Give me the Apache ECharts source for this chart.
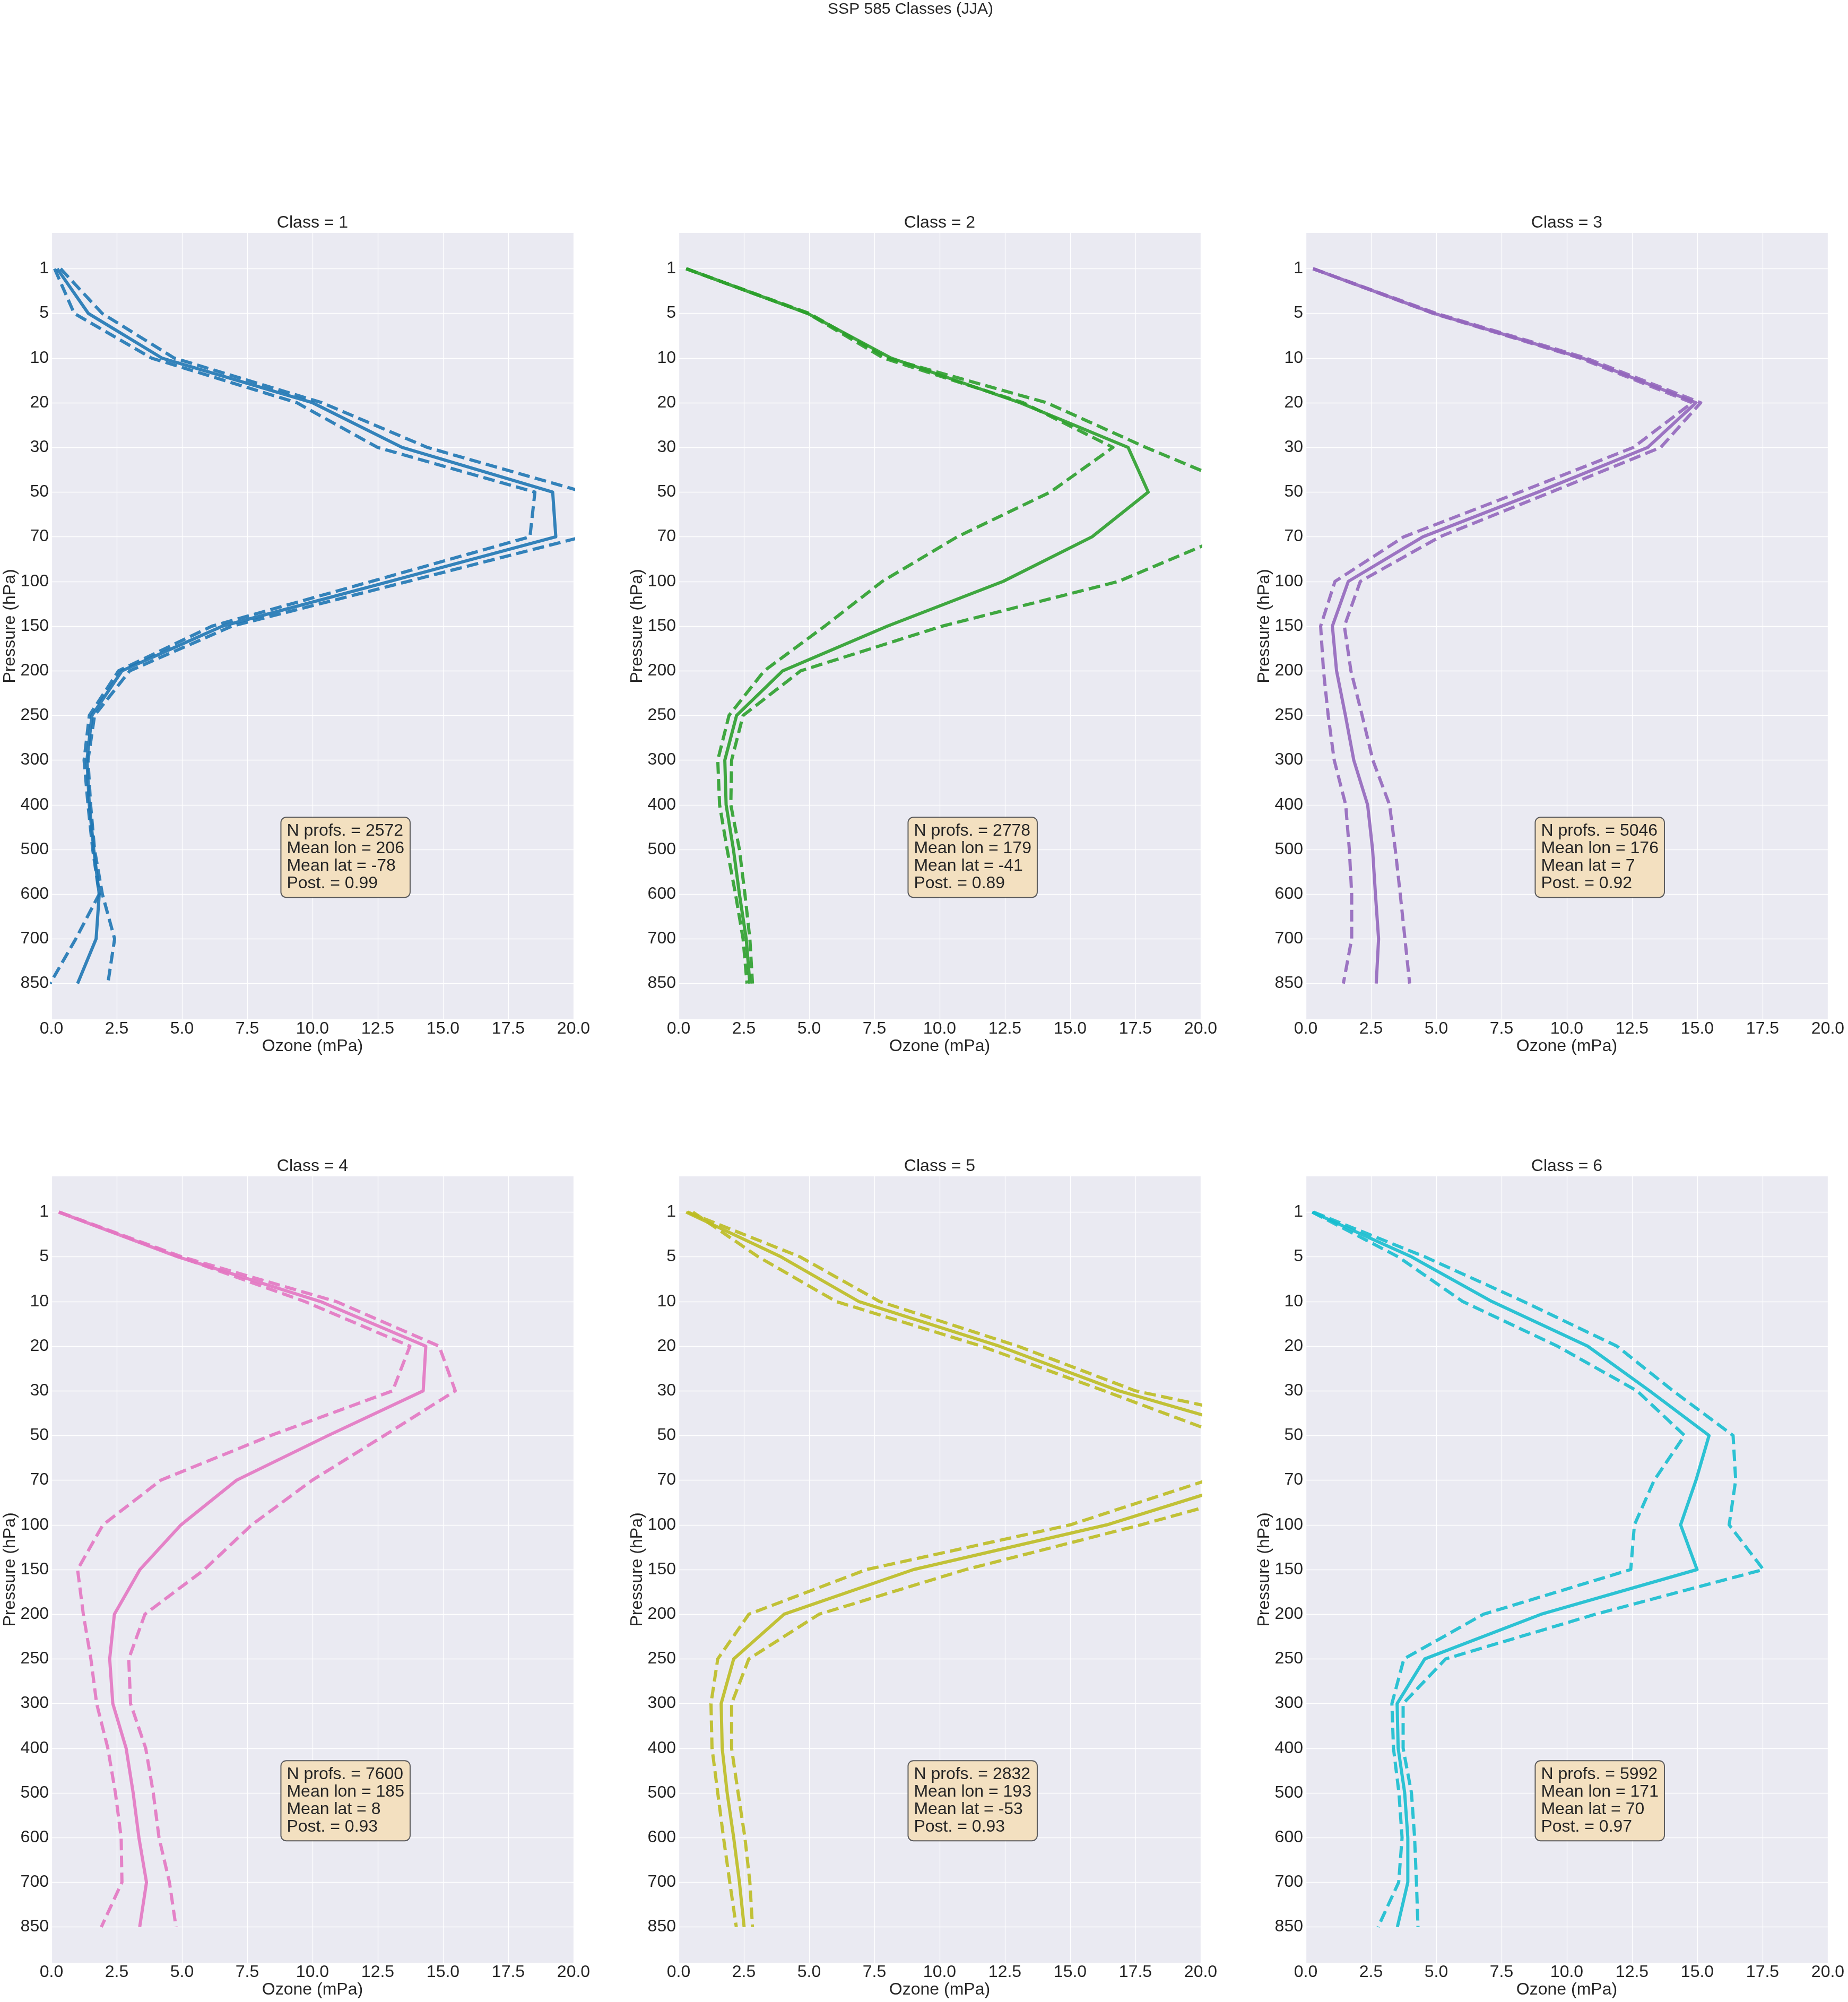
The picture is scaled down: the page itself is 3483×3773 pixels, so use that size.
<!DOCTYPE html>
<html><head><meta charset="utf-8">
<script src="https://cdn.jsdelivr.net/npm/echarts@6/dist/echarts.min.js"></script>
<style>html,body{margin:0;padding:0;background:#fff}#c{width:3483px;height:3773px}</style>
</head><body><div id="c"></div>
<script>
// ---- data ----
const pressureLevels = ['1','5','10','20','30','50','70','100','150','200','250','300','400','500','600','700','850'];
const classTitles = ['Class = 1','Class = 2','Class = 3','Class = 4','Class = 5','Class = 6'];
const classColors = ['#1f77b4','#2ca02c','#9467bd','#e377c2','#bcbd22','#17becf'];
const nProfs = [2572, 2778, 5046, 7600, 2832, 5992];
const meanLon = [206, 179, 176, 185, 193, 171];
const meanLat = [-78, -41, 7, 8, -53, 70];
const post = ['0.99', '0.89', '0.92', '0.93', '0.93', '0.97'];

const c1Mean = [0.22,1.41,4.23,10.0,13.43,19.2,19.32,12.95,6.55,2.7,1.55,1.36,1.45,1.62,1.83,1.71,1.0];
const c1DashA = [0.35,1.94,4.7,10.36,14.4,20.4,20.35,13.65,6.92,3.0,1.65,1.4,1.5,1.65,1.95,2.42,2.16];
const c1DashB = [0.12,0.87,3.83,9.4,12.49,18.52,18.33,12.25,6.15,2.57,1.45,1.25,1.4,1.58,1.83,0.93,-0.05];

const c2Mean = [0.29,4.94,8.14,13.08,17.22,17.99,15.84,12.43,8.0,3.99,2.22,1.77,1.82,2.1,2.33,2.59,2.73];
const c2DashA = [0.29,4.94,7.85,13.2,16.64,14.24,10.68,7.8,5.6,3.28,1.93,1.5,1.57,1.86,2.18,2.47,2.62];
const c2DashB = [0.29,5.0,8.0,14.1,17.9,22.0,20.9,16.85,10.1,4.68,2.47,2.03,2.0,2.33,2.54,2.73,2.83];

const c3Mean = [0.28,4.92,10.6,14.95,13.1,8.9,4.49,1.63,1.02,1.18,1.52,1.84,2.37,2.56,2.67,2.79,2.7];
const c3DashA = [0.28,4.88,10.5,14.8,12.55,8.2,3.76,1.12,0.57,0.68,0.86,1.09,1.53,1.67,1.76,1.76,1.44];
const c3DashB = [0.28,5.0,10.73,15.13,13.6,9.4,5.14,2.09,1.48,1.73,2.16,2.57,3.21,3.43,3.62,3.8,3.98];

const c4Mean = [0.28,4.84,10.3,14.34,14.24,10.6,7.09,4.96,3.39,2.41,2.23,2.35,2.86,3.13,3.35,3.64,3.38];
const c4DashA = [0.28,4.9,9.7,13.73,13.07,8.4,4.19,1.97,1.0,1.22,1.51,1.73,2.16,2.45,2.67,2.7,1.91];
const c4DashB = [0.3,4.99,10.9,14.85,15.47,12.75,9.99,7.67,5.86,3.58,2.96,3.03,3.61,3.9,4.12,4.52,4.77];

const c5Mean = [0.29,3.92,6.9,12.28,16.86,22.8,21.9,16.4,9.0,4.04,2.11,1.63,1.67,1.86,2.11,2.33,2.51];
const c5DashA = [0.55,3.05,6.03,11.6,16.3,20.9,20.25,15.0,7.2,2.69,1.5,1.24,1.28,1.5,1.72,1.96,2.21];
const c5DashB = [0.35,4.65,7.7,13.0,17.5,25.5,23.9,17.7,11.0,5.38,2.69,2.03,2.03,2.28,2.54,2.73,2.83];

const c6Mean = [0.25,4.05,7.13,10.8,13.17,15.45,14.95,14.36,14.99,9.02,4.56,3.5,3.54,3.79,3.91,3.91,3.51];
const c6DashA = [0.25,3.54,6.01,9.64,12.69,14.51,13.35,12.59,12.45,6.81,3.76,3.3,3.36,3.57,3.69,3.56,2.77];
const c6DashB = [0.3,4.56,8.34,11.92,14.07,16.37,16.47,16.22,17.53,11.1,5.36,3.73,3.73,4.05,4.17,4.24,4.3];

const classMeans = [c1Mean, c2Mean, c3Mean, c4Mean, c5Mean, c6Mean];
const classDashA = [c1DashA, c2DashA, c3DashA, c4DashA, c5DashA, c6DashA];
const classDashB = [c1DashB, c2DashB, c3DashB, c4DashB, c5DashB, c6DashB];

// ---- layout ----
const FONT = '"Liberation Sans", Arial, Helvetica, sans-serif';
const TXT = '#262626';
const gridLefts = [97, 1279, 2461];
const gridTops = [439, 2217];
const gridW = 984, gridH = 1482;
const levelIdx = pressureLevels.map((_, i) => i);

const chart = echarts.init(document.getElementById('c'), null, {renderer: 'canvas'});

const grids = [], xAxes = [], yAxes = [], series = [], graphics = [];
for (let k = 0; k < 6; k++) {
  const col = k % 3, row = Math.floor(k / 3);
  grids.push({left: gridLefts[col], top: gridTops[row], width: gridW, height: gridH,
    show: true, backgroundColor: '#EAEAF2', borderWidth: 0, containLabel: false});
  xAxes.push({type: 'value', gridIndex: k, min: 0, max: 20, interval: 2.5,
    name: 'Ozone (mPa)', nameLocation: 'middle', nameGap: 34,
    nameTextStyle: {fontFamily: FONT, fontSize: 32, color: TXT},
    axisLine: {show: false}, axisTick: {show: false},
    axisLabel: {margin: 2, fontFamily: FONT, fontSize: 32, color: TXT,
      formatter: v => v.toFixed(1), showMinLabel: true, showMaxLabel: true},
    splitLine: {show: true, lineStyle: {color: '#ffffff', width: 1.3}}});
  yAxes.push({type: 'value', gridIndex: k, min: -0.8, max: 16.8, inverse: true,
    name: 'Pressure (hPa)', nameLocation: 'middle', nameGap: 61, nameRotate: 90,
    nameTextStyle: {fontFamily: FONT, fontSize: 32, color: TXT},
    axisLine: {show: false},
    axisTick: {show: false, customValues: levelIdx},
    axisLabel: {margin: 5, fontFamily: FONT, fontSize: 32, color: TXT, customValues: levelIdx,
      formatter: v => pressureLevels[Math.round(v)]},
    splitLine: {show: true, lineStyle: {color: '#ffffff', width: 1.3}}});
  const mk = (arr, dashed) => ({
    type: 'line', xAxisIndex: k, yAxisIndex: k, showSymbol: false, symbol: 'none',
    clip: true, silent: true, animation: false,
    data: arr.map((x, i) => [x, levelIdx[i]]),
    lineStyle: {color: classColors[k], opacity: 0.9, width: 6,
      type: dashed ? [22, 10] : 'solid', cap: 'butt', join: 'round'}
  });
  series.push(mk(classMeans[k], false), mk(classDashA[k], true), mk(classDashB[k], true));
  graphics.push({type: 'text', x: gridLefts[col] + gridW / 2, y: gridTops[row] - 35,
    style: {text: classTitles[k], font: '32px ' + FONT, fill: TXT,
      textAlign: 'center', textVerticalAlign: 'top', align: 'center', verticalAlign: 'top'}});
}
graphics.push({type: 'text', x: 1716, y: 3,
  style: {text: 'SSP 585 Classes (JJA)', font: '30px ' + FONT, fill: TXT,
    textAlign: 'center', textVerticalAlign: 'top', align: 'center', verticalAlign: 'top'}});

chart.setOption({
  animation: false,
  backgroundColor: '#ffffff',
  grid: grids, xAxis: xAxes, yAxis: yAxes, series: series, graphic: graphics
});

// stats boxes, anchored in data coordinates
const boxes = [];
for (let k = 0; k < 6; k++) {
  const p = chart.convertToPixel({gridIndex: k}, [8.81, 12.29]);
  boxes.push({type: 'text', x: p[0], y: p[1], z: 100,
    style: {text: 'N profs. = ' + nProfs[k] + '\nMean lon = ' + meanLon[k] +
      '\nMean lat = ' + meanLat[k] + '\nPost. = ' + post[k],
      font: '32px ' + FONT, fill: TXT, lineHeight: 33,
      textAlign: 'left', textVerticalAlign: 'top', align: 'left', verticalAlign: 'top',
      backgroundColor: '#F3E0C0', borderColor: 'rgba(40,40,40,0.75)', borderWidth: 2,
      borderRadius: 9, padding: [8, 10, 9, 10]}});
}
chart.setOption({graphic: graphics.concat(boxes)});
</script></body></html>
